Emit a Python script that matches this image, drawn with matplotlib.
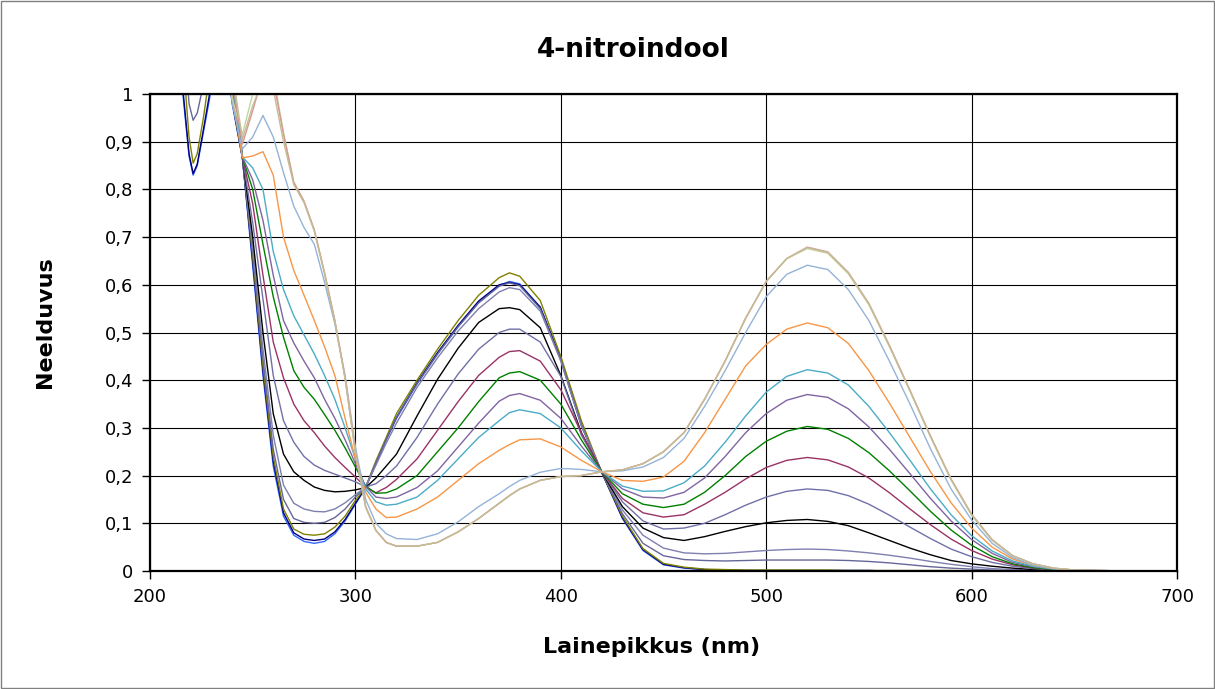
import matplotlib
matplotlib.use("Agg")
import matplotlib.pyplot as plt
from matplotlib.patches import Rectangle

# wavelength grid (nm) the spectra were read at
wl = [212, 216, 219, 221, 223, 226, 229, 232, 236, 240,
      245, 250, 255, 260, 265, 270, 275, 280, 285, 290,
      295, 300, 305, 310, 315, 320, 330, 340, 350, 360,
      370, 375, 380, 390, 400, 410, 420, 430, 440, 450,
      460, 470, 480, 490, 500, 510, 520, 530, 540, 550,
      560, 570, 580, 590, 600, 610, 620, 630, 640, 650,
      660, 680, 700]

# absorbance spectra (values above 1 are off the chart)
s_blue = [1.2, 1.0, 0.87, 0.83, 0.85, 0.92, 0.99, 1.08, 1.12, 0.98,
          0.865, 0.64, 0.41, 0.22, 0.115, 0.075, 0.062, 0.058, 0.062, 0.078,
          0.105, 0.14, 0.175, 0.225, 0.275, 0.32, 0.392, 0.455, 0.512, 0.563,
          0.598, 0.607, 0.602, 0.553, 0.443, 0.305, 0.206, 0.11, 0.043, 0.013,
          0.006, 0.003, 0.002, 0.001, 0.001, 0.001, 0.001, 0.001, 0.001, 0.001,
          0, 0, 0, 0, 0, 0, 0, 0, 0, 0,
          0, 0, 0]
s_navy = [1.2, 1.01, 0.875, 0.833, 0.853, 0.925, 1.0, 1.08, 1.12, 0.985,
          0.866, 0.65, 0.42, 0.23, 0.122, 0.08, 0.067, 0.064, 0.067, 0.082,
          0.108, 0.142, 0.175, 0.227, 0.277, 0.322, 0.395, 0.458, 0.515, 0.566,
          0.6, 0.605, 0.6, 0.553, 0.445, 0.307, 0.206, 0.112, 0.045, 0.014,
          0.007, 0.003, 0.002, 0.001, 0.001, 0.001, 0.001, 0.001, 0.001, 0.001,
          0, 0, 0, 0, 0, 0, 0, 0, 0, 0,
          0, 0, 0]
s_olive = [1.2, 1.08, 0.91, 0.855, 0.875, 0.95, 1.04, 1.1, 1.12, 0.99,
           0.867, 0.66, 0.43, 0.24, 0.13, 0.088, 0.077, 0.075, 0.078, 0.092,
           0.115, 0.148, 0.176, 0.231, 0.28, 0.33, 0.4, 0.465, 0.525, 0.578,
           0.615, 0.625, 0.618, 0.567, 0.45, 0.315, 0.206, 0.115, 0.047, 0.016,
           0.008, 0.004, 0.003, 0.002, 0.002, 0.002, 0.002, 0.002, 0.001, 0.001,
           0.001, 0.001, 0.001, 0.001, 0, 0, 0, 0, 0, 0,
           0, 0, 0]
s_slate1 = [1.2, 1.15, 0.98, 0.945, 0.96, 1.02, 1.1, 1.15, 1.15, 1.0,
            0.867, 0.67, 0.445, 0.255, 0.15, 0.11, 0.102, 0.1, 0.102, 0.112,
            0.13, 0.155, 0.176, 0.228, 0.276, 0.322, 0.393, 0.455, 0.512, 0.562,
            0.597, 0.604, 0.598, 0.55, 0.442, 0.305, 0.206, 0.12, 0.058, 0.032,
            0.024, 0.022, 0.021, 0.022, 0.023, 0.023, 0.023, 0.023, 0.022, 0.02,
            0.017, 0.013, 0.009, 0.006, 0.004, 0.002, 0.001, 0.001, 0, 0,
            0, 0, 0]
s_slate2 = [1.2, 1.2, 1.2, 1.2, 1.2, 1.2, 1.2, 1.2, 1.15, 1.01,
            0.868, 0.68, 0.465, 0.285, 0.18, 0.142, 0.13, 0.125, 0.124, 0.13,
            0.143, 0.16, 0.176, 0.222, 0.268, 0.31, 0.385, 0.447, 0.503, 0.55,
            0.585, 0.594, 0.59, 0.545, 0.44, 0.305, 0.207, 0.128, 0.075, 0.048,
            0.038, 0.036, 0.037, 0.04, 0.043, 0.045, 0.046, 0.045, 0.042, 0.038,
            0.033, 0.027, 0.02, 0.014, 0.009, 0.005, 0.003, 0.002, 0.001, 0,
            0, 0, 0]
s_black = [1.2, 1.2, 1.2, 1.2, 1.2, 1.2, 1.2, 1.2, 1.2, 1.02,
           0.868, 0.7, 0.5, 0.33, 0.245, 0.208, 0.19, 0.176, 0.169, 0.166,
           0.167, 0.17, 0.175, 0.195, 0.22, 0.245, 0.325, 0.402, 0.467, 0.521,
           0.55, 0.552, 0.548, 0.51, 0.41, 0.29, 0.207, 0.135, 0.09, 0.07,
           0.064, 0.072, 0.083, 0.093, 0.101, 0.106, 0.108, 0.104, 0.095, 0.08,
           0.064, 0.048, 0.034, 0.022, 0.015, 0.01, 0.006, 0.003, 0.002, 0.001,
           0, 0, 0]
s_slate3 = [1.2, 1.2, 1.2, 1.2, 1.2, 1.2, 1.2, 1.2, 1.2, 1.02,
            0.868, 0.73, 0.57, 0.41, 0.315, 0.27, 0.24, 0.222, 0.211, 0.203,
            0.195, 0.187, 0.176, 0.183, 0.2, 0.22, 0.28, 0.35, 0.413, 0.465,
            0.5, 0.507, 0.507, 0.48, 0.408, 0.285, 0.208, 0.145, 0.105, 0.088,
            0.09, 0.1, 0.118, 0.138, 0.155, 0.167, 0.172, 0.169, 0.158, 0.14,
            0.117, 0.092, 0.068, 0.046, 0.03, 0.018, 0.01, 0.005, 0.002, 0.001,
            0, 0, 0]
s_maroon = [1.2, 1.2, 1.2, 1.2, 1.2, 1.2, 1.2, 1.2, 1.2, 1.03,
            0.868, 0.77, 0.62, 0.48, 0.405, 0.35, 0.315, 0.29, 0.262, 0.238,
            0.217, 0.197, 0.176, 0.164, 0.175, 0.192, 0.235, 0.295, 0.355, 0.41,
            0.448, 0.46, 0.462, 0.44, 0.38, 0.29, 0.208, 0.152, 0.122, 0.113,
            0.118, 0.14, 0.165, 0.193, 0.217, 0.232, 0.238, 0.233, 0.218, 0.195,
            0.164, 0.13, 0.097, 0.067, 0.043, 0.025, 0.013, 0.006, 0.003, 0.001,
            0, 0, 0]
s_green = [1.2, 1.2, 1.2, 1.2, 1.2, 1.2, 1.2, 1.2, 1.2, 1.03,
           0.868, 0.8, 0.685, 0.575, 0.49, 0.42, 0.385, 0.36, 0.328, 0.295,
           0.258, 0.218, 0.178, 0.163, 0.164, 0.172, 0.2, 0.25, 0.3, 0.355,
           0.405, 0.415, 0.418, 0.4, 0.35, 0.275, 0.208, 0.162, 0.14, 0.133,
           0.14, 0.165, 0.2, 0.24, 0.272, 0.293, 0.303, 0.297, 0.278, 0.248,
           0.21, 0.168, 0.125, 0.086, 0.054, 0.03, 0.015, 0.007, 0.003, 0.001,
           0, 0, 0]
s_purple = [1.2, 1.2, 1.2, 1.2, 1.2, 1.2, 1.2, 1.2, 1.2, 1.03,
            0.868, 0.82, 0.735, 0.62, 0.525, 0.478, 0.44, 0.405, 0.36, 0.32,
            0.275, 0.225, 0.177, 0.155, 0.152, 0.155, 0.175, 0.21, 0.26, 0.31,
            0.356, 0.368, 0.372, 0.358, 0.32, 0.262, 0.208, 0.172, 0.155, 0.153,
            0.165, 0.195, 0.24, 0.29, 0.33, 0.358, 0.37, 0.364, 0.34, 0.302,
            0.255, 0.204, 0.152, 0.105, 0.066, 0.037, 0.018, 0.009, 0.004, 0.002,
            0.001, 0, 0]
s_cyan = [1.2, 1.2, 1.2, 1.2, 1.2, 1.2, 1.2, 1.2, 1.2, 1.03,
          0.868, 0.845, 0.8, 0.67, 0.59, 0.535, 0.495, 0.455, 0.41, 0.36,
          0.3, 0.235, 0.172, 0.145, 0.138, 0.14, 0.155, 0.19, 0.235, 0.28,
          0.315, 0.332, 0.338, 0.33, 0.3, 0.252, 0.208, 0.178, 0.167, 0.168,
          0.185, 0.22, 0.27, 0.325, 0.375, 0.408, 0.422, 0.415, 0.39, 0.345,
          0.29, 0.232, 0.172, 0.118, 0.074, 0.042, 0.021, 0.01, 0.004, 0.002,
          0.001, 0, 0]
s_orange = [1.2, 1.2, 1.2, 1.2, 1.2, 1.2, 1.2, 1.2, 1.2, 1.0,
            0.866, 0.87, 0.879, 0.83, 0.7, 0.63, 0.578, 0.525, 0.47, 0.41,
            0.32, 0.235, 0.165, 0.13, 0.112, 0.113, 0.13, 0.155, 0.19, 0.225,
            0.253, 0.265, 0.275, 0.277, 0.26, 0.232, 0.208, 0.19, 0.188, 0.197,
            0.23, 0.29, 0.36, 0.43, 0.475, 0.507, 0.52, 0.51, 0.477, 0.42,
            0.352, 0.28, 0.208, 0.143, 0.09, 0.05, 0.025, 0.012, 0.005, 0.002,
            0.001, 0, 0]
s_ltblue = [1.2, 1.2, 1.2, 1.2, 1.2, 1.2, 1.2, 1.2, 1.2, 0.98,
            0.885, 0.91, 0.955, 0.91, 0.835, 0.765, 0.72, 0.685, 0.605, 0.518,
            0.41, 0.26, 0.15, 0.1, 0.078, 0.068, 0.066, 0.078, 0.103, 0.135,
            0.162, 0.177, 0.19, 0.207, 0.215, 0.213, 0.208, 0.21, 0.218, 0.238,
            0.278, 0.345, 0.42, 0.5, 0.575, 0.622, 0.641, 0.632, 0.59, 0.525,
            0.44, 0.35, 0.256, 0.172, 0.107, 0.058, 0.028, 0.012, 0.005, 0.002,
            0.001, 0, 0]
s_ltgreen = [1.2, 1.2, 1.2, 1.2, 1.2, 1.2, 1.2, 1.2, 1.2, 0.99,
             0.915, 1.0, 1.06, 1.04, 0.92, 0.815, 0.775, 0.715, 0.625, 0.525,
             0.405, 0.25, 0.135, 0.085, 0.06, 0.052, 0.052, 0.06, 0.082, 0.11,
             0.142, 0.158, 0.172, 0.19, 0.198, 0.2, 0.208, 0.212, 0.225, 0.25,
             0.29, 0.36, 0.44, 0.53, 0.607, 0.655, 0.676, 0.666, 0.623, 0.558,
             0.47, 0.377, 0.281, 0.191, 0.117, 0.064, 0.032, 0.015, 0.006, 0.002,
             0.001, 0, 0]
s_rose = [1.2, 1.2, 1.2, 1.2, 1.2, 1.2, 1.2, 1.2, 1.2, 1.03,
          0.895, 0.965, 1.04, 1.03, 0.915, 0.815, 0.775, 0.715, 0.625, 0.525,
          0.405, 0.25, 0.135, 0.085, 0.06, 0.052, 0.052, 0.06, 0.082, 0.11,
          0.142, 0.158, 0.172, 0.19, 0.198, 0.2, 0.208, 0.212, 0.225, 0.25,
          0.29, 0.36, 0.44, 0.53, 0.607, 0.655, 0.679, 0.669, 0.626, 0.561,
          0.473, 0.379, 0.283, 0.193, 0.119, 0.066, 0.032, 0.015, 0.006, 0.002,
          0.001, 0, 0]
s_tan = [1.2, 1.2, 1.2, 1.2, 1.2, 1.2, 1.2, 1.2, 1.2, 1.05,
         0.905, 0.975, 1.03, 1.01, 0.9, 0.81, 0.772, 0.712, 0.622, 0.522,
         0.402, 0.247, 0.133, 0.085, 0.06, 0.052, 0.052, 0.06, 0.082, 0.11,
         0.142, 0.158, 0.172, 0.19, 0.198, 0.2, 0.208, 0.212, 0.225, 0.25,
         0.29, 0.36, 0.44, 0.53, 0.607, 0.655, 0.678, 0.668, 0.625, 0.56,
         0.472, 0.378, 0.282, 0.192, 0.118, 0.065, 0.032, 0.015, 0.006, 0.002,
         0.001, 0, 0]

series = [s_blue, s_navy, s_olive, s_slate1, s_slate2, s_black, s_slate3,
          s_maroon, s_green, s_purple, s_cyan, s_orange, s_ltblue,
          s_ltgreen, s_rose, s_tan]
colors = ["#3366FF", "#000080", "#808000", "#666699", "#7F7FB0", "#000000",
          "#7070A8", "#993366", "#008000", "#8064A2", "#4BACC6", "#F79646",
          "#95B3D7", "#C3D69B", "#D99694", "#C4BD97"]

x_ticks = [200, 300, 400, 500, 600, 700]
y_ticks = [0, 0.1, 0.2, 0.3, 0.4, 0.5, 0.6, 0.7, 0.8, 0.9, 1]
y_labels = ["0", "0,1", "0,2", "0,3", "0,4", "0,5", "0,6", "0,7", "0,8", "0,9", "1"]

fig = plt.figure(figsize=(12.15, 6.89), dpi=100)
ax = fig.add_axes([150 / 1215, 118 / 689, 1027 / 1215, 477 / 689])

for s, c in zip(series, colors):
    ax.plot(wl, s, color=c, lw=1.0, solid_joinstyle="round")

ax.set_xlim(200, 700)
ax.set_ylim(0, 1)
ax.set_xticks(x_ticks)
ax.set_yticks(y_ticks)
ax.set_yticklabels(y_labels)
ax.tick_params(labelsize=13, direction="out", length=6, width=1, color="black", pad=6)
ax.grid(True, color="black", lw=0.8)
ax.set_axisbelow(True)
for sp in ax.spines.values():
    sp.set_linewidth(1.6)
    sp.set_color("black")

# titles placed like the original chart
fig.text(633 / 1215, 1 - 50 / 689, "4-nitroindool", fontsize=19, fontweight="bold",
         ha="center", va="center")
fig.text(652 / 1215, 1 - 647 / 689, "Lainepikkus (nm)", fontsize=16, fontweight="bold",
         ha="center", va="center")
fig.text(45 / 1215, 1 - 322 / 689, "Neelduvus", fontsize=16, fontweight="bold",
         ha="center", va="center", rotation=90)

# outer chart border
fig.patches.append(Rectangle((0.6 / 1215, 0.6 / 689), 1 - 1.2 / 1215, 1 - 1.2 / 689,
                             transform=fig.transFigure, fill=False,
                             edgecolor="#808080", lw=1))

fig.savefig("out.png", dpi=100)
